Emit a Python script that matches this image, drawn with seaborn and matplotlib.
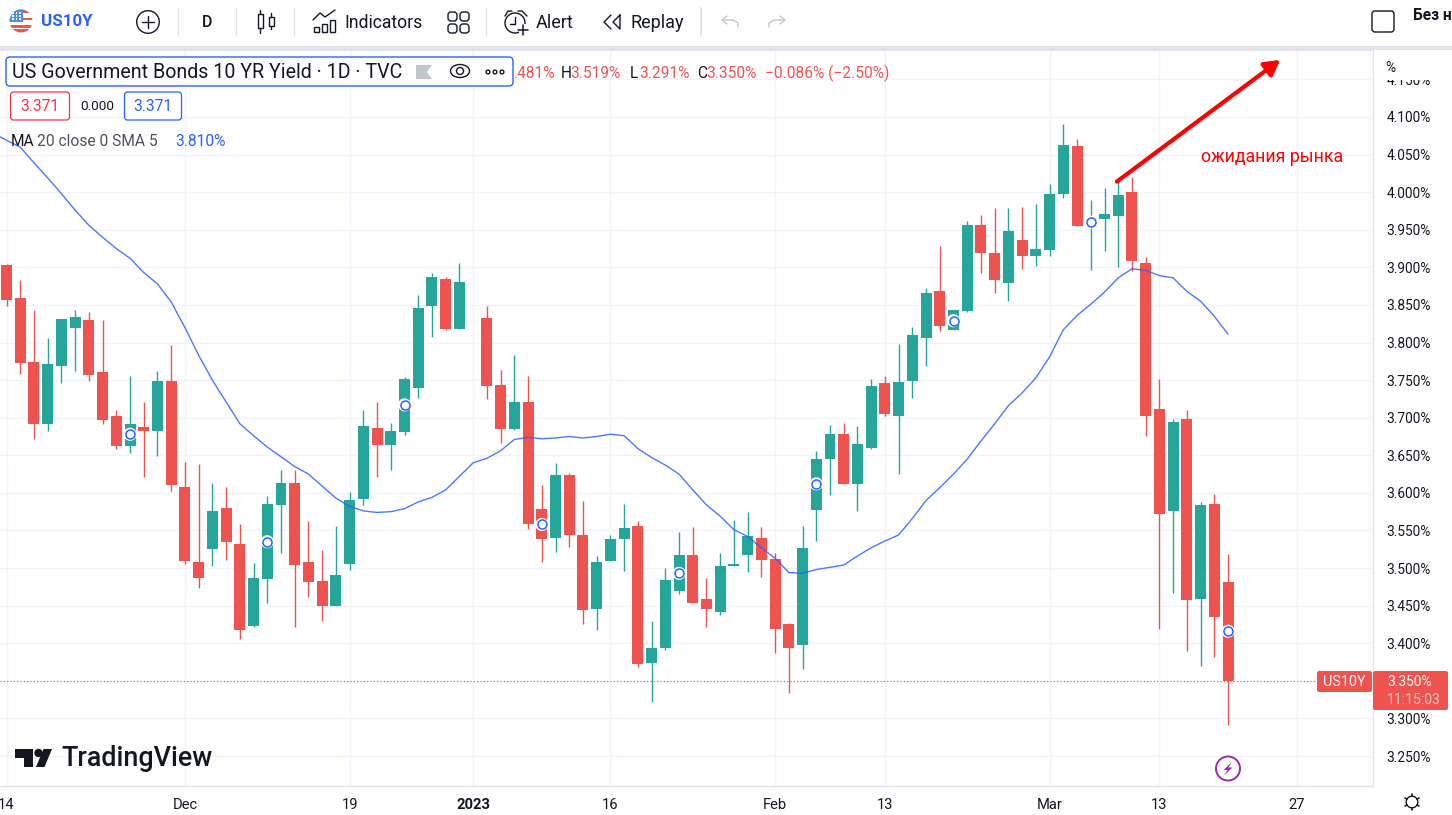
import matplotlib
matplotlib.use("Agg")
import matplotlib.pyplot as plt
from matplotlib.patches import Rectangle, FancyBboxPatch, Circle, Polygon, Ellipse
import numpy as np
import pandas as pd
import seaborn as sns

# ---------- data ----------
highs    = [3.904,3.883,3.843,3.806,3.831,3.843,3.841,3.830,3.710,3.756,3.721,3.762,3.797,3.641,3.639,3.613,3.608,3.559,3.507,3.596,
            3.631,3.631,3.562,3.524,3.556,3.601,3.710,3.721,3.693,3.754,3.863,3.892,3.887,3.906,3.833,3.849,3.764,3.784,3.756,3.611,
            3.640,3.627,3.589,3.516,3.544,3.585,3.563,3.429,3.500,3.548,3.555,3.487,3.520,3.564,3.575,3.554,3.520,3.427,3.556,3.656,
            3.690,3.693,3.689,3.752,3.756,3.798,3.821,3.873,3.929,3.843,3.962,3.970,3.979,3.979,3.980,3.984,4.011,4.091,4.071,3.990,
            4.006,4.014,4.020,3.914,3.752,3.698,3.710,3.588,3.598,3.519]
body_top = [3.903,3.859,3.774,3.772,3.831,3.834,3.830,3.761,3.702,3.692,3.688,3.749,3.749,3.608,3.508,3.576,3.580,3.532,3.487,3.585,
            3.613,3.613,3.508,3.483,3.491,3.591,3.689,3.686,3.682,3.752,3.846,3.887,3.885,3.881,3.833,3.833,3.744,3.721,3.721,3.579,
            3.624,3.624,3.544,3.508,3.539,3.553,3.556,3.394,3.484,3.518,3.518,3.459,3.503,3.506,3.543,3.540,3.512,3.425,3.527,3.645,
            3.678,3.678,3.665,3.742,3.746,3.748,3.810,3.866,3.869,3.843,3.956,3.956,3.919,3.948,3.937,3.925,3.998,4.063,4.061,3.961,
            3.971,3.996,4.000,3.906,3.712,3.694,3.698,3.584,3.585,3.481]
body_bot = [3.857,3.773,3.692,3.692,3.769,3.819,3.757,3.697,3.663,3.663,3.682,3.682,3.611,3.510,3.487,3.526,3.535,3.418,3.423,3.486,
            3.584,3.504,3.482,3.450,3.450,3.506,3.592,3.664,3.664,3.681,3.740,3.849,3.818,3.818,3.832,3.742,3.685,3.685,3.559,3.538,
            3.540,3.544,3.444,3.446,3.510,3.538,3.372,3.374,3.393,3.469,3.454,3.446,3.442,3.503,3.518,3.511,3.419,3.394,3.398,3.577,
            3.645,3.612,3.612,3.660,3.705,3.702,3.749,3.806,3.822,3.817,3.842,3.919,3.883,3.879,3.915,3.915,3.923,3.998,3.955,3.958,
            3.964,3.968,3.909,3.702,3.572,3.576,3.458,3.459,3.435,3.350]
lows     = [3.849,3.758,3.672,3.682,3.746,3.762,3.749,3.692,3.659,3.653,3.621,3.649,3.603,3.506,3.474,3.503,3.511,3.405,3.421,3.453,
            3.520,3.422,3.462,3.429,3.450,3.498,3.584,3.621,3.631,3.677,3.726,3.807,3.817,3.818,3.832,3.725,3.666,3.684,3.552,3.508,
            3.522,3.528,3.425,3.418,3.510,3.496,3.369,3.322,3.391,3.465,3.454,3.421,3.437,3.503,3.495,3.488,3.387,3.334,3.366,3.536,
            3.597,3.612,3.576,3.659,3.702,3.625,3.726,3.769,3.815,3.817,3.841,3.893,3.866,3.855,3.898,3.902,3.915,3.992,3.955,3.897,
            3.922,3.900,3.895,3.675,3.419,3.467,3.389,3.370,3.382,3.291]
is_up = [0,0,0,1,1,1,0,0,0,1,0,1,0,0,0,1,0,0,1,1,
         1,0,0,0,1,1,1,0,1,1,1,1,0,1,1,0,0,1,0,0,
         1,0,0,1,1,1,0,1,1,1,0,0,1,1,1,0,0,0,1,1,
         1,0,1,1,0,1,1,1,0,1,1,0,0,1,0,1,1,1,0,1,
         1,1,0,0,0,1,0,1,0,0]
ma_days = list(range(-1, 90))
ma_vals = [4.079,4.069,4.060,4.039,4.019,3.998,3.976,3.956,3.940,3.925,3.912,3.893,3.878,3.854,3.820,3.783,3.750,3.721,3.692,3.676,3.661,
           3.648,3.635,3.625,3.609,3.593,3.582,3.576,3.574,3.575,3.579,3.588,3.594,3.604,3.622,3.640,3.646,3.656,3.671,3.674,3.672,
           3.673,3.675,3.673,3.675,3.678,3.676,3.659,3.647,3.637,3.625,3.604,3.584,3.569,3.551,3.542,3.527,3.513,3.494,3.493,3.498,
           3.501,3.504,3.516,3.527,3.536,3.544,3.566,3.590,3.607,3.625,3.645,3.669,3.692,3.716,3.733,3.753,3.781,3.817,3.836,3.851,
           3.867,3.886,3.898,3.896,3.889,3.886,3.868,3.855,3.835,3.811]
marker_days = [9,19,29,39,49,59,69,79,89]
marker_vals = [3.678,3.535,3.717,3.558,3.493,3.612,3.829,3.960,3.416]
last_close = 3.350
arrow_days = [80.9, 92.8]
arrow_vals = [4.014, 4.176]
price_ticks = [3.25,3.30,3.35,3.40,3.45,3.50,3.55,3.60,3.65,3.70,3.75,3.80,3.85,3.90,3.95,4.00,4.05,4.10,4.15]
hidden_tick = 3.35
date_ticks = [0,13,25,34,44,56,64,76,84,94]
date_labels = ["14","Dec","19","2023","16","Feb","13","Mar","13","27"]

UP, DOWN = "#26a69a", "#ef5350"
BLUE = "#2962ff"
INK = "#131722"
GRID = "#f0f3fa"
EDGE = "#e0e3eb"
FONT = ["Roboto", "DejaVu Sans"]

sns.set_theme(style="white")
plt.rcParams["font.family"] = FONT
W, H = 1452, 815
fig = plt.figure(figsize=(W/100, H/100), dpi=100, facecolor="white")
L, R, T, B = 0, 1373, 50, 786
ax = fig.add_axes([L/W, 1-B/H, (R-L)/W, (B-T)/H])
# scale: day i sits at 6.5+13.725*i px, price p at 756-(p-3.25)*751.8 px
ax.set_xlim((L-6.5)/13.725, (R-6.5)/13.725)
ax.set_ylim(3.25+(756-B)/751.8, 3.25+(756-T)/751.8)

df = pd.DataFrame(dict(day=range(len(highs)), hi=highs, top=body_top, bot=body_bot, lo=lows, up=is_up))
df["color"] = np.where(df.up == 1, UP, DOWN)

ax.set_yticks(price_ticks)
ax.set_yticklabels(["" if abs(p-hidden_tick) < 1e-6 else f"{p:.3f}%" for p in price_ticks], fontsize=9.9, color=INK)
ax.yaxis.tick_right()
ax.set_xticks(date_ticks)
ax.set_xticklabels(date_labels, fontsize=10.6, color=INK)
ax.get_xticklabels()[3].set_fontweight("bold")
ax.tick_params(axis="both", length=0)
ax.tick_params(axis="y", pad=9.5)
ax.tick_params(axis="x", pad=8.5)
ax.grid(True, color=GRID, lw=1.0)
ax.set_axisbelow(True)
for s in ("top", "left"):
    ax.spines[s].set_visible(False)
for s in ("right", "bottom"):
    ax.spines[s].set_color(EDGE)
    ax.spines[s].set_linewidth(1.0)

ax.axhline(last_close, color=DOWN, lw=0.8, ls=(0, (1, 2)), zorder=1.5)
ax.vlines(df.day, df.lo, df.hi, colors=df.color, lw=1.0, zorder=2)
ax.bar(df.day, df.top-df.bot, bottom=df.bot, width=0.8, color=df.color, lw=0, zorder=2.2)
sns.lineplot(x=ma_days, y=ma_vals, ax=ax, color=BLUE, lw=1.0, alpha=0.85, errorbar=None, zorder=3)
sns.scatterplot(x=marker_days, y=marker_vals, ax=ax, s=90, color="white", edgecolor="none", linewidth=0, zorder=4, legend=False)
sns.scatterplot(x=marker_days, y=marker_vals, ax=ax, s=42, color="white", edgecolor=BLUE, linewidth=1.1, zorder=4.1, legend=False)
ax.annotate("", xy=(arrow_days[1], arrow_vals[1]), xytext=(arrow_days[0], arrow_vals[0]), zorder=5, annotation_clip=False,
            arrowprops=dict(arrowstyle="-|>,head_length=0.75,head_width=0.42", color="#ff0000", lw=3.0, shrinkA=0, shrinkB=0))
ax.set_xlabel(""); ax.set_ylabel("")

# ---------- interface chrome, in pixel coordinates ----------
ov = fig.add_axes([0, 0, 1, 1], facecolor="none", zorder=10)
ov.set_xlim(0, W); ov.set_ylim(H, 0); ov.axis("off")

def txt(x, y, s, size=10.5, color=INK, ha="left", weight="normal", **kw):
    return ov.text(x, y, s, fontsize=size, color=color, ha=ha, va="center", fontweight=weight, **kw)
def line(xs, ys, color=INK, lw=1.0, **kw):
    ov.plot(xs, ys, color=color, lw=lw, solid_capstyle="round", **kw)
def rbox(x0, y0, x1, y1, r=3, fc="white", ec="none", lw=1.0, z=2):
    ov.add_patch(FancyBboxPatch((x0+r, y0+r), x1-x0-2*r, y1-y0-2*r, boxstyle=f"round,pad={r},rounding_size={r}",
                                fc=fc, ec=ec, lw=lw, zorder=z))

# toolbar
ov.add_patch(Rectangle((0, 0), W, 46, fc="white", ec="none", zorder=0))
ov.add_patch(Rectangle((0, 46), W, 4.5, fc=EDGE, ec="none", zorder=1))
for sx in (178, 236, 294, 486):
    line([sx, sx], [8, 35], color=EDGE, lw=0.9)
line([701, 701], [8, 35], color=EDGE, lw=1.4)
# flag
flag = Circle((21, 21), 11.5, fc="white", ec="none", zorder=2); ov.add_patch(flag)
for y0, y1 in ((9, 13), (18, 20), (25, 28), (29, 34)):
    r_ = ov.add_patch(Rectangle((9, y0), 24, y1-y0, fc=DOWN, ec="none", zorder=3)); r_.set_clip_path(flag)
c_ = ov.add_patch(Rectangle((9, 9), 14, 13, fc="#4d8ef0", ec="none", zorder=4)); c_.set_clip_path(flag)
for xx in (13, 16.5, 20):
    for yy in (13, 16, 19):
        ov.add_patch(Rectangle((xx-.8, yy-.8), 1.6, 1.6, fc="white", ec="none", zorder=5))
txt(41, 22, "US10Y", 12.2, BLUE, weight="bold")
ov.add_patch(Circle((148, 22), 11.3, fc="none", ec=INK, lw=1.0))
line([142, 154], [22, 22], lw=1.0); line([148, 148], [16, 28], lw=1.0)
txt(207, 22.5, "D", 11.5, ha="center", weight="medium")
for cx, y0, y1, h0, h1 in ((260, 14, 28, 10, 33), (271, 17, 26, 13, 29)):
    ov.add_patch(Rectangle((cx-2.5, y0), 5, y1-y0, fc="none", ec=INK, lw=1.0))
    line([cx, cx], [h0, y0], lw=1.0); line([cx, cx], [y1, h1], lw=1.0)
for x0, y0 in ((314, 27), (322, 24), (330, 20)):
    ov.add_patch(Rectangle((x0, y0), 5, 32-y0, fc="none", ec=INK, lw=1.0))
line([313, 320, 325, 335], [20, 13, 17, 10], lw=1.0)
txt(344, 22.5, "Indicators", 12.7)
for x0 in (448, 460):
    for y0 in (12, 24):
        ov.add_patch(FancyBboxPatch((x0+2, y0+2), 5, 5, boxstyle="round,pad=2,rounding_size=3", fc="none", ec=INK, lw=1.0))
ov.add_patch(Circle((515, 23), 10, fc="none", ec=INK, lw=1.0))
ov.add_patch(Rectangle((519, 24), 14, 11, fc="white", ec="none", zorder=2.5))
line([515, 515, 510], [17, 24, 24], lw=1.0, zorder=3)
line([523, 523], [25, 35], lw=1.1, zorder=3); line([518, 528], [30, 30], lw=1.1, zorder=3)
line([505, 508, 512], [16, 11, 11], lw=1.0); line([518, 522, 527], [11, 11, 16], lw=1.0)
txt(536, 22.5, "Alert", 13.0)
line([611, 604, 611], [15, 22, 29], lw=1.0); line([620, 613, 620, 620], [15, 22, 29, 15], lw=1.0)
txt(631, 22.5, "Replay", 13.0)
line([727, 722, 727], [16, 20, 24], color="#c3c6ce", lw=1.0)
line([722, 733, 738, 738], [20, 20, 23, 27], color="#c3c6ce", lw=1.0)
line([780, 785, 780], [16, 20, 24], color="#c3c6ce", lw=1.0)
line([785, 774, 769, 769], [20, 20, 23, 27], color="#c3c6ce", lw=1.0)
rbox(1372, 11, 1394, 32, r=3, fc="white", ec=INK, lw=1.0)
txt(1413, 16, "Без н", 11.2, weight="bold")

# legend rows
rbox(6, 57, 513, 86, r=4, fc="white", ec=BLUE, lw=1.0)
txt(12, 72.5, "US Government Bonds 10 YR Yield · 1D · TVC", 14.1)
ov.add_patch(Polygon([(416, 65), (432, 65), (427, 72), (432, 79), (416, 79)], fc="#c3c6ce", ec="none", zorder=3))
ov.add_patch(Ellipse((460, 71), 19, 13, fc="none", ec=INK, lw=1.0, zorder=3))
ov.add_patch(Circle((460, 71), 3.5, fc="none", ec=INK, lw=1.0, zorder=3))
for dx in (488, 495, 502):
    ov.add_patch(Circle((dx, 72), 1.9, fc="none", ec=INK, lw=1.0, zorder=3))
LS = 11.2
txt(514, 73.5, ".481%", LS, DOWN)
txt(561, 73.5, "H", LS)
txt(570, 73.5, "3.519%", LS, DOWN)
txt(630, 73.5, "L", LS)
txt(639, 73.5, "3.291%", LS, DOWN)
txt(697, 73.5, "C", LS)
txt(706, 73.5, "3.350%", LS, DOWN)
txt(765, 73.5, "−0.086% (−2.50%)", LS, DOWN)
rbox(10.5, 92, 69.5, 120, r=3, fc="white", ec="#f23645", lw=0.9)
txt(40, 106.5, "3.371", LS, "#f23645", ha="center")
txt(97, 106.5, "0.000", 9.7, ha="center")
rbox(124.5, 92, 181.5, 120, r=3, fc="white", ec=BLUE, lw=0.9)
txt(153, 106.5, "3.371", LS, BLUE, ha="center")
txt(11, 142, "MA", LS)
txt(37, 142, "20 close 0 SMA 5", LS, "#50535e")
txt(175, 142, "3.810%", LS, BLUE)

# annotation
txt(1201, 156.5, "ожидания рынка", 12.8, "#ff0000")

# price axis head and last price tags
ov.add_patch(Rectangle((1374, 50), 78, 29.5, fc="white", ec="none", zorder=1.5))
txt(1385, 68, "%", 9.9, INK)
rbox(1317, 671, 1372, 692, r=2, fc=DOWN)
txt(1344, 682, "US10Y", 10.4, "white", ha="center", zorder=3)
rbox(1373, 671, 1448, 710, r=2, fc=DOWN)
txt(1387, 682, "3.350%", 9.9, "white", zorder=3)
txt(1387, 700, "11:15:03", 10.1, "#f9c5c3", zorder=3)

# event badge
ov.add_patch(Circle((1228, 768.5), 12, fc="white", ec="#9c27b0", lw=1.4))
ov.add_patch(Polygon([(1232, 762), (1223.5, 770), (1227.5, 770), (1224, 775.5), (1232.5, 767.5), (1228.5, 767.5)],
                     fc="#9c27b0", ec="none", zorder=3))

# gear
ov.add_patch(Circle((1412, 802), 5.8, fc="none", ec=INK, lw=1.0))
for a in np.deg2rad(np.arange(0, 360, 60)+30):
    line([1412+5.8*np.cos(a), 1412+8*np.cos(a)], [802+5.8*np.sin(a), 802+8*np.sin(a)], lw=1.2)

# wordmark
ov.add_patch(Polygon([(15, 749), (33, 749), (33, 767), (24, 767), (24, 758), (15, 758)], fc=INK, ec="none"))
ov.add_patch(Circle((38.5, 753), 4.2, fc=INK, ec="none"))
ov.add_patch(Polygon([(43.5, 749), (52, 749), (44.5, 767), (36, 767)], fc=INK, ec="none"))
txt(61, 759, "TradingView", 19.4, weight="medium")

fig.savefig("out.png", dpi=100, facecolor="white")
